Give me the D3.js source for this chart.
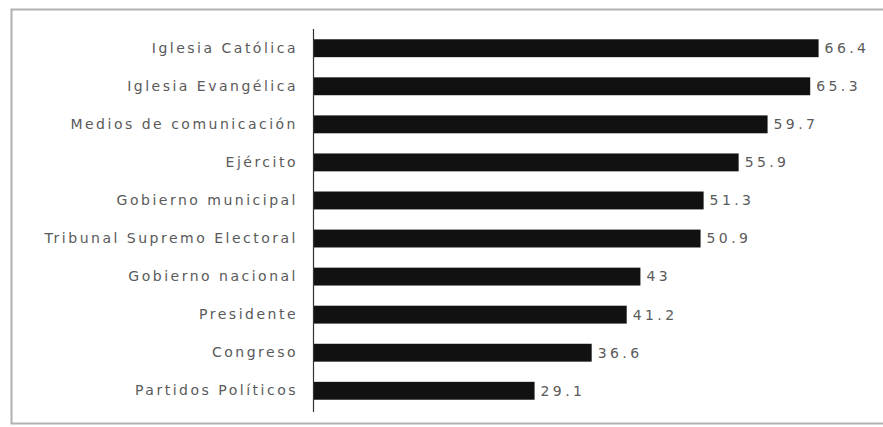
<!DOCTYPE html>
<html>
<head>
<meta charset="utf-8">
<script src="https://cdn.jsdelivr.net/npm/d3@7"></script>
<style>
  html, body { margin: 0; padding: 0; background: #fff; }
  svg { display: block; }
</style>
</head>
<body>
<svg id="chart" width="883" height="427"></svg>
<script>
// Confianza en instituciones (%)
const categories = [
  "Iglesia Católica",
  "Iglesia Evangélica",
  "Medios de comunicación",
  "Ejército",
  "Gobierno municipal",
  "Tribunal Supremo Electoral",
  "Gobierno nacional",
  "Presidente",
  "Congreso",
  "Partidos Políticos"
];
const values = [66.4, 65.3, 59.7, 55.9, 51.3, 50.9, 43, 41.2, 36.6, 29.1];
const valueLabels = ["66.4", "65.3", "59.7", "55.9", "51.3", "50.9", "43", "41.2", "36.6", "29.1"];

const svg = d3.select("#chart");
const W = 883, H = 427;

// frame around the chart
svg.append("rect")
  .attr("x", 11.5).attr("y", 9.5)
  .attr("width", W + 10).attr("height", 414)
  .attr("fill", "none")
  .attr("stroke", "#b0b0b0")
  .attr("stroke-width", 2);

const margin = { left: 313, top: 29 };
const x = d3.scaleLinear().domain([0, 70]).range([margin.left, margin.left + 533]);
const y = d3.scaleBand()
  .domain(categories)
  .range([margin.top, 410])
  .paddingInner(0.53)
  .paddingOuter(0.27);

const font = "'DejaVu Sans', Verdana, sans-serif";

// bars
svg.append("g").selectAll("rect")
  .data(values)
  .join("rect")
  .attr("x", x(0))
  .attr("y", (d, i) => y(categories[i]))
  .attr("width", d => x(d) - x(0))
  .attr("height", y.bandwidth())
  .attr("fill", "#111");

// category axis
const yAxis = d3.axisLeft(y).tickSize(0).tickPadding(15);
const gy = svg.append("g")
  .attr("transform", `translate(${x(0)},0)`)
  .call(yAxis);
gy.select(".domain")
  .attr("stroke", "#333")
  .attr("stroke-width", 1.2)
  .attr("d", `M0.5,${margin.top}V412`);
gy.selectAll("text")
  .attr("fill", "#5a5a5a")
  .style("font-family", font)
  .style("font-size", "14px")
  .style("letter-spacing", "2.5px");

// value labels
svg.append("g").selectAll("text")
  .data(values)
  .join("text")
  .attr("x", d => x(d) + 6)
  .attr("y", (d, i) => y(categories[i]) + y.bandwidth() / 2)
  .attr("dy", "0.35em")
  .attr("fill", "#5a5a5a")
  .style("font-family", font)
  .style("font-size", "14px")
  .style("letter-spacing", "3.4px")
  .text((d, i) => valueLabels[i]);
</script>
</body>
</html>
